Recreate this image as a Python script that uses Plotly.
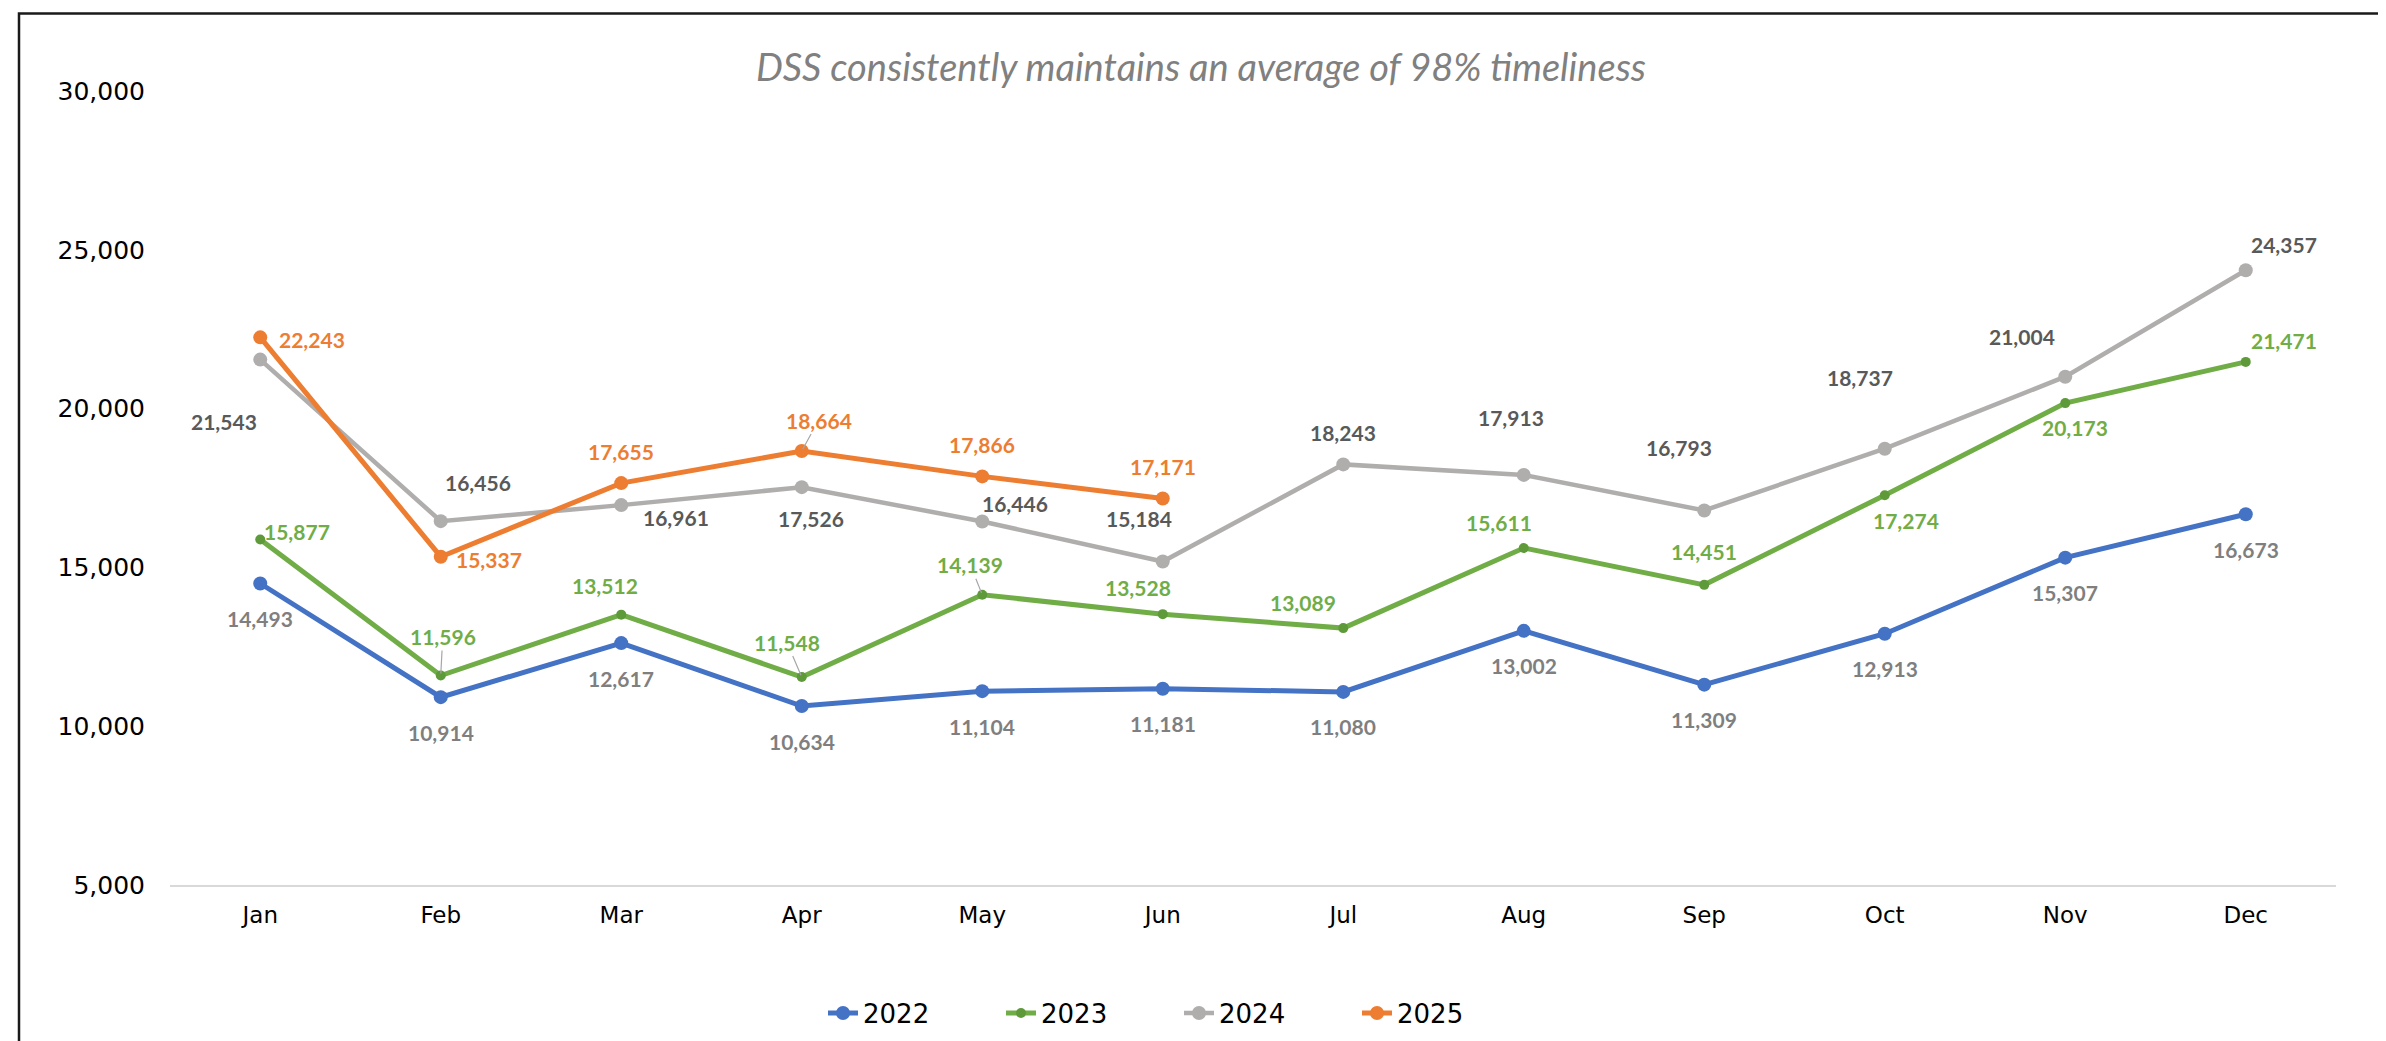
"""Monthly volume line chart, 2022-2025, with Excel-style data labels."""

import plotly.graph_objects as go

MONTHS = ["Jan", "Feb", "Mar", "Apr", "May", "Jun", "Jul", "Aug", "Sep", "Oct", "Nov", "Dec"]
VALUES_2022 = [14493, 10914, 12617, 10634, 11104, 11181, 11080, 13002, 11309, 12913, 15307, 16673]
VALUES_2023 = [15877, 11596, 13512, 11548, 14139, 13528, 13089, 15611, 14451, 17274, 20173, 21471]
VALUES_2024 = [21543, 16456, 16961, 17526, 16446, 15184, 18243, 17913, 16793, 18737, 21004, 24357]
VALUES_2025 = [22243, 15337, 17655, 18664, 17866, 17171]

TITLE = "DSS consistently maintains an average of 98% timeliness"

W, H = 2386, 1041
MARGIN = dict(l=162, r=58, t=83, b=158)
PLOT_W = W - MARGIN["l"] - MARGIN["r"]
PLOT_H = H - MARGIN["t"] - MARGIN["b"]

# line colour, marker colour, marker size, line width, label colour
STYLES = {
    "2022": ("#4472C4", "#4472C4", 14, 5, "#7F7F7F"),
    "2023": ("#70AD47", "#5E9A3A", 10, 5, "#70AD47"),
    "2024": ("#B0ADAD", "#B0ADAD", 14, 4.5, "#595959"),
    "2025": ("#ED7D31", "#ED7D31", 14, 5, "#ED7D31"),
}

# where each data label sits relative to its point, in px (dx right, dy down)
LABEL_OFFSETS = {
    "2022": [(0, 35)] * 12,
    "2023": [(37, -8), (2, -39), (-16, -29), (-15, -35), (-12, -30), (-25, -27),
             (-40, -26), (-25, -25), (0, -33), (21, 25), (10, 24), (38, -21)],
    "2024": [(-36, 62), (37, -39), (55, 12), (9, 31), (33, -18), (-24, -43),
             (0, -32), (-13, -57), (-25, -63), (-25, -71), (-43, -40), (38, -26)],
    "2025": [(52, 2), (48, 3), (0, -32), (17, -31), (0, -32), (0, -32)],
}
LEADER_LINES = {("2023", 1), ("2023", 3), ("2023", 4), ("2025", 3)}

LABEL_FONT = "Lato"
AXIS_FONT = "DejaVu Sans"


def px_to_paper_x(px):
    return (px - MARGIN["l"]) / PLOT_W


def px_to_paper_y(py):
    return (H - MARGIN["b"] - py) / PLOT_H


def create_figure():
    series = {
        "2022": VALUES_2022,
        "2023": VALUES_2023,
        "2024": VALUES_2024,
        "2025": VALUES_2025,
    }

    fig = go.Figure()
    annotations = []
    for year, values in series.items():
        line_color, marker_color, marker_size, line_width, label_color = STYLES[year]
        months = MONTHS[:len(values)]
        fig.add_trace(go.Scatter(
            x=months,
            y=values,
            name=year,
            mode="lines+markers",
            line=dict(color=line_color, width=line_width),
            marker=dict(color=marker_color, size=marker_size),
        ))

        for i, (month, value) in enumerate(zip(months, values)):
            dx, dy = LABEL_OFFSETS[year][i]
            ann = dict(
                x=month,
                y=value,
                text=f"{value:,}",
                font=dict(family=LABEL_FONT, size=21, color=label_color, weight="bold"),
            )
            if (year, i) in LEADER_LINES:
                ann.update(showarrow=True, ax=dx, ay=dy, arrowhead=0,
                           arrowwidth=1.2, arrowcolor="#A6A6A6", standoff=2)
            else:
                ann.update(showarrow=False, xshift=dx, yshift=-dy)
            annotations.append(ann)

    fig.update_layout(
        width=W,
        height=H,
        margin=MARGIN,
        paper_bgcolor="white",
        plot_bgcolor="white",
        title=dict(
            text=TITLE,
            x=0.5,
            xref="container",
            xanchor="center",
            y=1 - 60 / H,
            yanchor="middle",
            font=dict(family="Lato", size=38, color="#808080", style="italic"),
        ),
        xaxis=dict(
            type="category",
            range=[-0.5, 11.5],
            showgrid=False,
            showline=True,
            linecolor="#D9D9D9",
            linewidth=2,
            ticks="",
            ticklabelstandoff=8,
            tickfont=dict(family=AXIS_FONT, size=23, color="#000000"),
        ),
        yaxis=dict(
            range=[5000, 30000],
            dtick=5000,
            tickformat=",",
            showgrid=False,
            zeroline=False,
            showline=False,
            ticks="",
            ticklabelstandoff=24,
            tickfont=dict(family=AXIS_FONT, size=25, color="#000000"),
        ),
        legend=dict(
            orientation="h",
            x=px_to_paper_x(815),
            xanchor="left",
            y=px_to_paper_y(1012),
            yanchor="middle",
            entrywidth=133,
            font=dict(family=AXIS_FONT, size=26, color="#000000"),
        ),
        annotations=annotations,
        shapes=[dict(
            type="rect",
            xref="paper",
            yref="paper",
            x0=px_to_paper_x(11),
            x1=px_to_paper_x(2382),
            y0=px_to_paper_y(1060),
            y1=px_to_paper_y(5),
            line=dict(color="#1A1A1A", width=2.5),
            fillcolor="rgba(0,0,0,0)",
            layer="above",
        )],
    )
    return fig


fig = create_figure()
fig.write_html("out.html")
